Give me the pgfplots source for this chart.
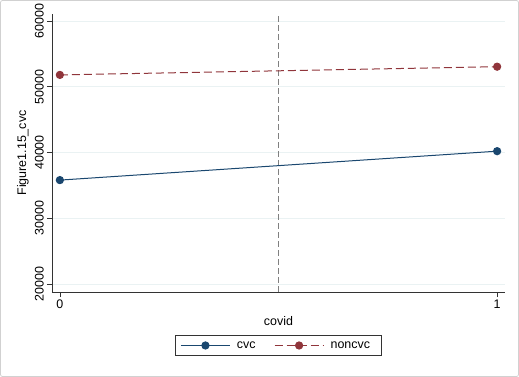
\documentclass[border=0pt]{standalone}
\usepackage{pgfplots}
\pgfplotsset{compat=1.18}
\usepackage{fontspec}
\setmainfont{Liberation Sans}
\definecolor{cvcc}{RGB}{26,71,111}
\definecolor{noncvcc}{RGB}{144,53,59}
\definecolor{gridc}{RGB}{234,242,243}
\begin{document}
\begin{tikzpicture}
\useasboundingbox (-52bp,-85bp) rectangle (467bp,292bp);
\draw[black!18, line width=0.8bp, rounded corners=2bp] (-51.5bp,-84.5bp) rectangle (466.5bp,291.5bp);
\begin{axis}[
  at={(0,0)}, anchor=south west,
  scale only axis, width=453bp, height=278bp,
  xmin=-0.018, xmax=1.018, ymin=18780, ymax=61065,
  axis x line*=bottom, axis y line*=left,
  axis line style={black!80, line width=0.7bp},
  xtick={0,1}, ytick={20000,30000,40000,50000,60000},
  scaled ticks=false,
  tick align=outside, major tick length=5bp,
  tick style={black!80, line width=0.7bp},
  ymajorgrids, grid style={gridc, line width=0.9bp},
  /pgf/number format/assume math mode=true,
  /pgf/number format/1000 sep={},
  tick label style={font=\fontsize{12.5}{14}\selectfont},
  label style={font=\fontsize{12.5}{14}\selectfont},
  yticklabel style={rotate=90, anchor=south, inner sep=3bp},
  xticklabel style={inner sep=3bp},
  xlabel={covid}, ylabel={Figure1.15\_cvc},
  xlabel style={at={(axis description cs:0.5,-0.1043)}, anchor=center},
  ylabel style={at={(axis description cs:-0.064,0.5)}, anchor=center},
  legend columns=2,
  legend style={at={(axis description cs:0.5,-0.1924)}, anchor=center,
    draw=black!80, line width=0.7bp, font=\fontsize{12.5}{14}\selectfont,
    inner xsep=5bp, inner ysep=4bp,
    nodes={inner xsep=6.5bp, inner ysep=2bp},
    /tikz/every even column/.append style={column sep=12bp}},
  legend image code/.code={\draw[mark repeat=2,mark phase=2] plot coordinates {(0bp,0bp) (24.5bp,0bp) (49bp,0bp)};},
]
\addplot[forget plot, black!50, line width=0.9bp, dash pattern=on 6bp off 3bp] coordinates {(0.5,18780) (0.5,61065)};
\addplot[cvcc, line width=1bp, mark=*, mark size=3.6bp, mark options={solid, fill=cvcc}] coordinates {(0,35800) (1,40200)};
\addlegendentry{cvc}
\addplot[noncvcc, line width=1bp, dash pattern=on 8bp off 4bp, mark=*, mark size=3.6bp, mark options={solid, fill=noncvcc}] coordinates {(0,51800) (1,53050)};
\addlegendentry{noncvc}
\end{axis}
\end{tikzpicture}
\end{document}
